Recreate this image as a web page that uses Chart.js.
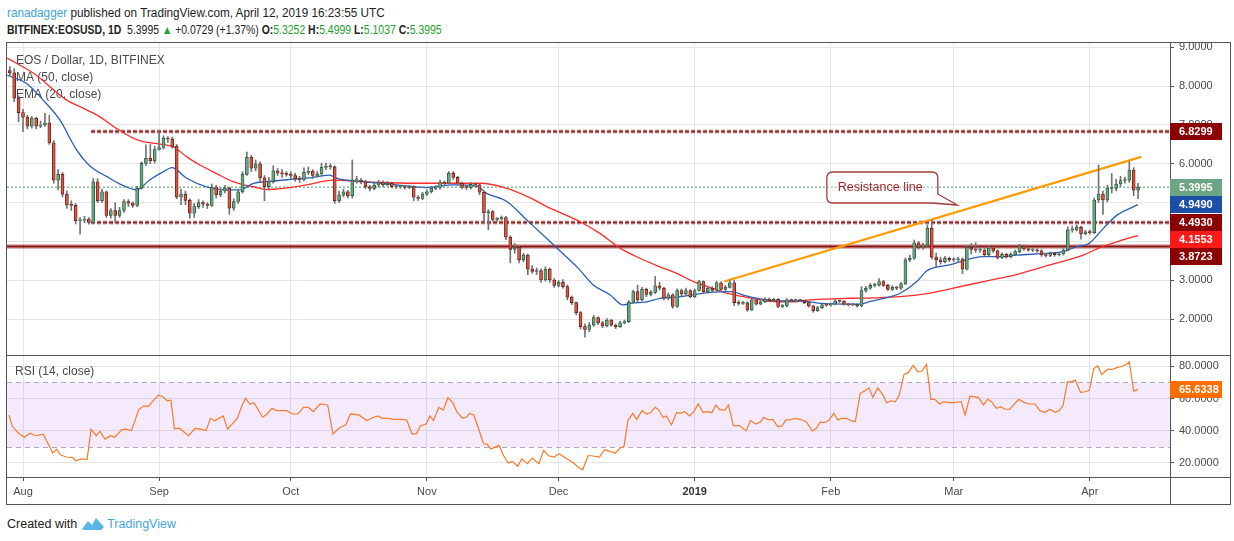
<!DOCTYPE html>
<html>
<head>
<meta charset="utf-8">
<title>EOS / Dollar, 1D, BITFINEX</title>
<script src="https://cdn.jsdelivr.net/npm/chart.js@4.4.1/dist/chart.umd.min.js"></script>
<style>
    html, body { margin: 0; padding: 0; background: #fff; }
    body { width: 1234px; height: 541px; position: relative; overflow: hidden; font-family: "Liberation Sans", Arial, sans-serif; }
    .hdr { position: absolute; left: 7px; font-size: 12px; line-height: 14px; color: #222; white-space: nowrap; transform-origin: 0 0; }
    #hdr1 { top: 6px; transform: scaleX(0.98); }
    #hdr2 { top: 23px; transform: scaleX(0.87); }
    .user { color: #3ea3dc; }
    .grn { color: #1e9e2a; }
    #frame { position: absolute; left: 6px; top: 42px; width: 1225px; height: 463px; border: 1px solid #555; box-sizing: border-box; }
    canvas { position: absolute; left: 7px; }
    #price { top: 43px; }
    #rsi { top: 355px; }
    #foot { position: absolute; left: 7px; top: 515px; font-size: 12.5px; line-height: 16px; color: #222; white-space: nowrap; }
    #foot svg { vertical-align: -3px; margin: 0 2px 0 4px; }
    #foot .tv { color: #45a6de; }
</style>
</head>
<body>
<div class="hdr" id="hdr1"><span class="user">ranadagger</span> published on TradingView.com, April 12, 2019 16:23:55 UTC</div>
<div class="hdr" id="hdr2"><b>BITFINEX:EOSUSD, 1D</b>&nbsp; 5.3995 <span class="grn">▲</span> +0.0729 (+1.37%) <b>O:</b><span class="grn">5.3252</span> <b>H:</b><span class="grn">5.4999</span> <b>L:</b><span class="grn">5.1037</span> <b>C:</b><span class="grn">5.3995</span></div>
<div id="frame"></div>
<canvas id="price" width="1223" height="312" style="width:1223px;height:312px"></canvas>
<canvas id="rsi" width="1223" height="149" style="width:1223px;height:149px"></canvas>
<div id="foot">Created with<svg width="24" height="16" viewBox="0 0 24 16"><path d="M1 14 L7 6 L11 10 L15 3 L23 12 L20 15 L3 15 Z" fill="#5ab4e5"/></svg><span class="tv">TradingView</span></div>

<script>
// day numbers count from 1 Aug 2018 (0); first candle is 29 Jul 2018
const FIRST_DAY = -3;
const FIRST_OPEN = 8.40;

const closes = [
    8.34, 7.69, 7.32, 7.20, 6.97, 7.18, 6.97, 7.00, 7.05, 6.54,
    5.58, 5.73, 5.22, 4.94, 4.93, 4.53, 4.55, 4.58, 4.49, 5.54,
    5.05, 5.28, 4.67, 4.80, 4.67, 4.80, 5.03, 4.99, 4.93, 5.37,
    6.01, 6.14, 6.08, 6.37, 6.42, 6.66, 6.64, 6.45, 5.15, 5.22,
    5.06, 4.73, 4.90, 5.00, 4.96, 4.93, 5.40, 5.20, 5.30, 5.38,
    4.86, 5.03, 5.28, 5.73, 6.17, 5.89, 6.00, 5.64, 5.41, 5.54,
    5.82, 5.76, 5.74, 5.73, 5.70, 5.62, 5.60, 5.78, 5.81, 5.70,
    5.74, 5.91, 5.93, 5.92, 5.05, 5.20, 5.28, 5.18, 5.58, 5.58,
    5.54, 5.41, 5.37, 5.45, 5.52, 5.46, 5.50, 5.41, 5.41, 5.41,
    5.39, 5.41, 5.14, 5.11, 5.22, 5.28, 5.37, 5.39, 5.52, 5.50,
    5.76, 5.65, 5.50, 5.40, 5.39, 5.47, 5.46, 5.27, 4.74, 4.77,
    4.57, 4.58, 4.62, 4.11, 3.80, 3.85, 3.53, 3.65, 3.29, 3.23,
    3.25, 3.01, 3.29, 3.01, 2.87, 2.95, 2.84, 2.57, 2.43, 2.17,
    1.81, 1.74, 1.85, 2.04, 1.91, 1.83, 1.98, 1.85, 1.81, 1.91,
    1.94, 2.44, 2.71, 2.50, 2.77, 2.64, 2.69, 2.86, 2.80, 2.54,
    2.63, 2.33, 2.74, 2.65, 2.74, 2.58, 2.74, 2.97, 2.71, 2.80,
    2.74, 2.94, 2.77, 2.82, 2.94, 2.43, 2.41, 2.42, 2.24, 2.50,
    2.39, 2.45, 2.52, 2.48, 2.51, 2.33, 2.34, 2.50, 2.48, 2.49,
    2.48, 2.43, 2.34, 2.22, 2.30, 2.37, 2.36, 2.39, 2.47, 2.46,
    2.39, 2.37, 2.38, 2.34, 2.74, 2.80, 2.87, 2.88, 2.97, 2.87,
    2.77, 2.82, 2.80, 2.91, 3.53, 3.57, 3.97, 3.85, 3.91, 4.34,
    3.60, 3.53, 3.48, 3.57, 3.53, 3.53, 3.55, 3.29, 3.85, 3.80,
    3.78, 3.78, 3.66, 3.83, 3.76, 3.59, 3.67, 3.61, 3.67, 3.74,
    3.89, 3.81, 3.78, 3.78, 3.76, 3.66, 3.64, 3.70, 3.66, 3.68,
    3.78, 4.30, 4.30, 4.37, 4.20, 4.25, 4.23, 5.07, 5.22, 5.07,
    5.37, 5.37, 5.48, 5.57, 5.58, 5.84, 5.3252, 5.3995
];

const highs = [
    8.50, 8.45, 7.75, 7.40, 7.25, 7.22, 7.20, 7.10, 7.30, 7.25,
    6.60, 5.85, 5.78, 5.30, 5.05, 4.98, 4.62, 4.65, 4.62, 5.62,
    5.62, 5.35, 5.30, 4.85, 5.00, 4.88, 5.08, 5.08, 5.02, 5.42,
    6.05, 6.49, 6.50, 6.45, 6.83, 6.72, 6.70, 6.69, 6.50, 5.35,
    5.30, 5.10, 4.98, 5.08, 5.05, 5.00, 5.48, 5.45, 5.38, 5.45,
    5.40, 5.10, 5.35, 5.80, 6.30, 6.22, 6.10, 6.05, 5.70, 5.65,
    5.95, 5.88, 5.85, 5.80, 5.80, 5.76, 5.68, 5.90, 5.92, 5.85,
    5.80, 6.02, 6.02, 6.00, 5.95, 5.30, 5.35, 5.32, 6.10, 5.68,
    5.62, 5.58, 5.45, 5.50, 5.58, 5.56, 5.55, 5.53, 5.46, 5.45,
    5.44, 5.45, 5.44, 5.18, 5.27, 5.33, 5.42, 5.44, 5.58, 5.56,
    5.80, 5.80, 5.68, 5.53, 5.44, 5.52, 5.50, 5.49, 5.30, 4.82,
    4.80, 4.62, 4.66, 4.65, 4.15, 3.95, 3.88, 3.70, 3.68, 3.38,
    3.32, 3.30, 3.35, 3.32, 3.05, 3.00, 3.02, 2.88, 2.60, 2.45,
    2.20, 1.88, 1.92, 2.10, 2.06, 1.95, 2.02, 2.00, 1.88, 1.95,
    1.98, 2.48, 2.75, 2.88, 2.82, 2.80, 2.74, 3.10, 2.95, 2.82,
    2.68, 2.66, 2.78, 2.78, 2.80, 2.76, 2.78, 3.00, 2.99, 2.85,
    2.84, 2.98, 2.96, 2.87, 3.00, 3.00, 2.48, 2.46, 2.45, 2.53,
    2.52, 2.48, 2.55, 2.55, 2.54, 2.53, 2.38, 2.53, 2.52, 2.52,
    2.51, 2.50, 2.45, 2.36, 2.33, 2.40, 2.39, 2.42, 2.50, 2.49,
    2.48, 2.41, 2.41, 2.40, 2.84, 2.85, 2.92, 2.93, 3.05, 3.00,
    2.90, 2.86, 2.85, 2.95, 3.58, 3.65, 4.04, 4.00, 3.96, 4.43,
    4.55, 3.70, 3.60, 3.62, 3.60, 3.58, 3.60, 3.58, 3.90, 3.95,
    3.97, 3.84, 3.82, 3.88, 3.86, 3.79, 3.71, 3.70, 3.71, 3.78,
    3.93, 3.91, 3.84, 3.82, 3.81, 3.79, 3.69, 3.73, 3.72, 3.71,
    3.82, 4.38, 4.40, 4.43, 4.40, 4.29, 4.30, 5.12, 5.97, 5.30,
    5.45, 5.75, 5.60, 5.68, 5.66, 6.06, 5.90, 5.4999
];

const lows = [
    8.25, 7.60, 7.08, 6.83, 6.90, 6.92, 6.90, 6.93, 6.96, 6.50,
    5.50, 5.33, 5.15, 4.85, 4.80, 4.45, 4.19, 4.48, 4.45, 4.47,
    5.00, 5.00, 4.62, 4.60, 4.49, 4.62, 4.75, 4.90, 4.88, 4.90,
    5.35, 5.95, 6.00, 6.02, 6.35, 6.38, 6.55, 6.40, 5.10, 4.95,
    4.95, 4.60, 4.62, 4.85, 4.88, 4.85, 4.90, 5.12, 5.15, 5.25,
    4.70, 4.80, 4.98, 5.25, 5.70, 5.80, 5.82, 5.55, 5.05, 5.35,
    5.50, 5.70, 5.65, 5.68, 5.62, 5.55, 5.52, 5.56, 5.72, 5.62,
    5.66, 5.70, 5.85, 5.86, 4.98, 5.00, 5.15, 5.12, 5.12, 5.50,
    5.48, 5.36, 5.30, 5.33, 5.40, 5.42, 5.43, 5.38, 5.37, 5.37,
    5.35, 5.36, 5.05, 5.06, 5.08, 5.18, 5.25, 5.33, 5.35, 5.45,
    5.48, 5.60, 5.45, 5.36, 5.34, 5.35, 5.40, 5.20, 4.47, 4.30,
    4.52, 4.52, 4.55, 4.05, 3.45, 3.70, 3.45, 3.48, 3.15, 3.18,
    3.15, 2.95, 2.98, 2.95, 2.82, 2.83, 2.80, 2.50, 2.38, 2.12,
    1.75, 1.54, 1.68, 1.82, 1.86, 1.78, 1.80, 1.82, 1.76, 1.79,
    1.88, 1.92, 2.40, 2.45, 2.47, 2.58, 2.60, 2.66, 2.75, 2.50,
    2.50, 2.28, 2.30, 2.60, 2.62, 2.55, 2.55, 2.72, 2.68, 2.68,
    2.70, 2.72, 2.74, 2.74, 2.80, 2.35, 2.36, 2.38, 2.20, 2.22,
    2.36, 2.37, 2.43, 2.45, 2.46, 2.30, 2.30, 2.32, 2.45, 2.46,
    2.45, 2.40, 2.31, 2.18, 2.20, 2.28, 2.33, 2.34, 2.37, 2.43,
    2.36, 2.34, 2.35, 2.31, 2.32, 2.70, 2.77, 2.83, 2.85, 2.84,
    2.74, 2.74, 2.76, 2.77, 2.89, 3.48, 3.54, 3.80, 3.80, 3.88,
    3.55, 3.35, 3.42, 3.45, 3.48, 3.48, 3.49, 3.17, 3.27, 3.68,
    3.72, 3.72, 3.62, 3.63, 3.72, 3.55, 3.56, 3.57, 3.58, 3.64,
    3.71, 3.77, 3.75, 3.74, 3.72, 3.62, 3.60, 3.61, 3.62, 3.63,
    3.65, 3.76, 4.24, 4.27, 4.06, 4.17, 4.19, 4.20, 5.00, 4.70,
    5.02, 5.25, 5.30, 5.42, 5.50, 5.52, 5.18, 5.1037
];

// MA (50) and EMA (20)
const smaDays = [
    -3.6, 2.4, 10, 14.5, 17.5, 21.3, 25.1, 27.4, 31.2, 34.2,
    37.3, 40.3, 44.1, 47.9, 50.2, 52.5, 55.5, 59.3, 64.6, 70.7,
    77.5, 81.3, 88.9, 96.5, 104.1, 110.2, 115.8, 119.3, 122.5, 126.9,
    131.4, 136, 140.5, 145.1, 148.9, 152.7, 156.5, 160.3, 164.1, 167.9,
    171.7, 175.5, 179.3, 183.1, 188.4, 194, 199.8, 205.9, 211.9, 218.8,
    226.3, 233.9, 241.5, 246.1, 250.5, 254
];
const smaVals = [
    8.72, 8.33, 7.64, 7.39, 7.21, 6.91, 6.66, 6.57, 6.51, 6.44,
    6.18, 5.97, 5.75, 5.54, 5.46, 5.41, 5.34, 5.37, 5.46, 5.58,
    5.54, 5.52, 5.50, 5.50, 5.50, 5.37, 5.11, 4.90, 4.74, 4.51,
    4.21, 3.83, 3.57, 3.35, 3.18, 2.97, 2.82, 2.67, 2.58, 2.50,
    2.45, 2.45, 2.50, 2.52, 2.54, 2.55, 2.58, 2.66, 2.80, 2.97,
    3.15, 3.40, 3.65, 3.88, 4.04, 4.1553
];
const emaDays = [
    -3.6, 0.8, 4.6, 8.4, 12.2, 15.3, 19.1, 22.1, 25.9, 28.9,
    32, 33.9, 37.3, 41.8, 46.4, 49.4, 52.5, 55.5, 60.1, 64.6,
    69.9, 71.4, 77.5, 85.1, 91.9, 98, 103.3, 105.6, 110.2, 114.7,
    119.3, 122.7, 126.5, 129.9, 133.7, 136.7, 138.3, 142.1, 145.1, 148.9,
    152.7, 156.5, 161.1, 164.8, 168.6, 172.4, 177, 181.6, 186.9, 190.5,
    193, 196.5, 199.8, 203.6, 205.9, 211.1, 218.8, 222.6, 226.3, 233.9,
    237, 240, 242.7, 246.1, 249.2, 254
];
const emaVals = [
    8.28, 8.07, 7.64, 7.13, 6.36, 5.94, 5.67, 5.48, 5.33, 5.59,
    5.80, 5.90, 5.63, 5.41, 5.33, 5.33, 5.50, 5.54, 5.59, 5.63,
    5.71, 5.63, 5.54, 5.46, 5.39, 5.46, 5.43, 5.24, 5.03, 4.56,
    4.08, 3.72, 3.31, 2.88, 2.63, 2.37, 2.41, 2.45, 2.54, 2.57,
    2.63, 2.69, 2.71, 2.60, 2.51, 2.47, 2.47, 2.41, 2.39, 2.39,
    2.46, 2.55, 2.67, 2.97, 3.25, 3.40, 3.61, 3.61, 3.65, 3.70,
    3.74, 3.87, 3.94, 4.34, 4.68, 4.949
];

// RSI (14)
const rsiDays = [
    -3.2, -2.4, -1.2, 0.3, 1.6, 2.9, 4.6, 6.8, 7.7, 8.5,
    9.9, 11.2, 12.0, 13.3, 14.6, 15.5, 16.7, 17.5, 18.7, 19.9,
    20.9, 22.5, 23.4, 24.7, 26.4, 27.5, 28.6, 30.8, 31.9, 32.8,
    33.7, 34.5, 35.6, 37.7, 39.2, 40.4, 41.7, 42.7, 43.7, 45.6,
    46.6, 48.8, 50.0, 50.7, 51.7, 52.6, 54.6, 55.6, 56.7, 57.8,
    60.0, 61.5, 62.6, 63.9, 65.0, 66.1, 67.7, 69.4, 70.6, 72.2,
    73.5, 74.6, 76.5, 78.3, 79.9, 80.9, 81.8, 83.1, 84.4, 86.1,
    87.4, 88.6, 89.6, 90.5, 91.8, 92.7, 93.5, 94.7, 95.7, 96.8,
    97.9, 98.8, 100.1, 101.0, 101.7, 102.7, 103.6, 104.9, 105.7, 106.6,
    108.4, 109.5, 110.5, 111.4, 112.7, 113.6, 114.9, 116.0, 117.5, 118.6,
    119.7, 121.0, 122.1, 123.6, 125.4, 126.7, 127.5, 128.7, 129.5, 131.3,
    132.5, 133.7, 134.9, 136.0, 136.9, 137.8, 138.9, 139.8, 141.0, 142.0,
    142.9, 144.0, 144.7, 145.8, 146.6, 147.7, 148.9, 149.8, 150.7, 151.8,
    152.8, 153.8, 154.9, 155.8, 156.9, 157.8, 158.8, 159.9, 160.7, 161.8,
    163.2, 164.7, 165.7, 166.9, 168.0, 168.7, 169.9, 170.8, 171.9, 172.9,
    173.8, 174.7, 175.8, 177.0, 178.4, 179.8, 180.7, 181.6, 182.5, 183.5,
    184.7, 185.6, 186.5, 187.6, 188.7, 189.6, 190.7, 191.8, 192.7, 193.6,
    194.7, 195.9, 196.7, 197.8, 198.7, 199.6, 200.7, 201.6, 202.8, 203.8,
    204.7, 205.8, 206.8, 207.7, 208.8, 209.8, 210.9, 212.1, 213.7, 214.6,
    215.7, 217.6, 218.8, 219.7, 220.6, 221.7, 222.7, 223.6, 224.7, 226.8,
    228.0, 229.1, 230.5, 231.7, 232.8, 233.9, 235.1, 236.0, 236.9, 237.9,
    238.8, 239.7, 240.9, 242.0, 242.9, 243.9, 244.8, 245.7, 247.1, 248.0,
    249.2, 250.3, 251.1, 252, 253, 254
];
const rsiVals = [
    49.8, 42.6, 38.9, 36.0, 38.5, 36.9, 37.9, 26.2, 28.6, 25.1,
    23.7, 23.5, 21.4, 22.5, 22.1, 41.0, 36.9, 39.7, 34.8, 36.9,
    36.0, 40.6, 41.0, 40.1, 53.3, 55.3, 55.3, 62.1, 61.1, 58.6,
    59.0, 41.2, 41.6, 36.9, 41.4, 41.0, 40.1, 47.7, 46.2, 49.2,
    41.0, 47.7, 56.4, 60.1, 56.4, 57.4, 48.4, 50.4, 53.9, 52.5,
    52.5, 50.4, 50.4, 54.5, 54.5, 51.9, 56.6, 56.0, 37.9, 42.2,
    43.6, 50.4, 49.8, 46.3, 48.4, 49.2, 47.7, 47.7, 47.1, 47.1,
    46.7, 38.1, 38.1, 43.0, 44.2, 49.2, 46.3, 54.5, 52.9, 60.5,
    57.4, 51.9, 47.7, 48.4, 50.8, 49.8, 42.6, 31.9, 31.7, 28.6,
    30.9, 24.5, 20.0, 21.0, 18.0, 22.5, 19.6, 23.1, 19.6, 27.8,
    24.5, 23.7, 25.8, 23.1, 20.0, 16.9, 15.9, 24.5, 24.5, 23.7,
    28.2, 27.2, 26.2, 29.2, 30.3, 46.3, 50.8, 47.1, 52.5, 50.4,
    51.2, 54.5, 53.3, 48.2, 49.2, 43.6, 51.4, 50.8, 51.9, 49.2,
    51.9, 56.6, 51.4, 51.9, 51.2, 56.0, 52.9, 52.9, 56.0, 43.2,
    43.2, 39.9, 46.3, 44.2, 45.6, 48.2, 46.8, 47.1, 42.6, 43.0,
    46.7, 46.7, 47.7, 47.1, 45.6, 39.9, 41.5, 45.3, 45.0, 46.3,
    50.8, 46.7, 47.7, 47.7, 46.1, 45.7, 63.2, 64.8, 66.6, 60.7,
    66.6, 62.1, 57.4, 58.6, 58.0, 62.1, 75.1, 75.9, 80.6, 76.5,
    76.9, 81.2, 59.5, 59.5, 56.6, 58.0, 57.4, 57.4, 58.0, 49.8,
    61.5, 60.7, 56.0, 59.5, 58.0, 53.9, 54.9, 53.5, 53.3, 59.5,
    57.6, 56.6, 56.6, 52.3, 51.4, 53.3, 51.4, 52.5, 55.5, 70.3,
    70.3, 71.4, 63.8, 64.2, 65.2, 78.6, 80.2, 74.9, 78.2, 78.0,
    79.2, 80.0, 80.8, 82.7, 64.6, 65.6338
];

const monthDays = [0, 31, 61, 92, 122, 153, 184, 212, 243];
const monthLabels = ['Aug', 'Sep', 'Oct', 'Nov', 'Dec', '2019', 'Feb', 'Mar', 'Apr'];
const priceTicks = [2, 3, 4, 5, 6, 7, 8, 9];
const rsiTicks = [20, 40, 60, 80];
const rsiBand = [30, 70];

// drawn levels: 6.8299 and 4.4930 dashed, 3.8723 solid
const levelValues = [6.8299, 4.4930, 3.8723];
const levelFrom = [15.5, 15.5, -3.65];
const trendDays = [159.7, 254.7];
const trendVals = [2.97, 6.18];

const X_MIN = -3.645, X_MAX = 261.27;
const FONT = '"Liberation Sans", Arial, sans-serif';
const GRID = '#e6e6e6';
const AXIS = '#555555';
const TEXT = '#4a4a4a';
const TAG_H = 17;

Chart.defaults.font.family = FONT;
Chart.defaults.font.size = 11;
Chart.defaults.color = TEXT;

const days = closes.map((c, i) => FIRST_DAY + i);
const opens = closes.map((c, i) => (i === 0 ? FIRST_OPEN : closes[i - 1]));
const isUp = closes.map((c, i) => c >= opens[i]);

function pts(xs, ys) {
    return xs.map((x, i) => ({ x: x, y: ys[i] }));
}

function isYearTick(ctx) {
    return !!(ctx && ctx.tick && monthLabels[monthDays.indexOf(ctx.tick.value)] === '2019');
}

function monthAxis(showLabels) {
    return {
        type: 'linear',
        min: X_MIN,
        max: X_MAX,
        offset: false,
        afterBuildTicks: s => { s.ticks = monthDays.map(v => ({ value: v })); },
        ticks: {
            display: showLabels,
            autoSkip: false,
            maxRotation: 0,
            padding: 4,
            callback: v => monthLabels[monthDays.indexOf(v)] || '',
            color: ctx => (isYearTick(ctx) ? '#333' : TEXT),
            font: ctx => ({ size: 11, weight: isYearTick(ctx) ? 'bold' : 'normal' })
        },
        grid: { color: GRID, offset: false, drawTicks: showLabels, tickLength: 4, tickColor: AXIS },
        border: { display: showLabels, color: AXIS },
        afterFit: s => { s.height = showLabels ? 27 : 0; s.paddingLeft = 0; s.paddingRight = 0; }
    };
}

function valueAxis(min, max, tickList) {
    return {
        type: 'linear',
        position: 'right',
        min: min,
        max: max,
        afterBuildTicks: s => { s.ticks = tickList.map(v => ({ value: v })); },
        ticks: { callback: v => Number(v).toFixed(4), color: TEXT, padding: 5 },
        grid: { color: GRID, tickLength: 4, tickColor: AXIS },
        border: { display: true, color: AXIS },
        afterFit: s => { s.width = 60; s.paddingTop = 0; s.paddingBottom = 0; }
    };
}

// ---------- price pane plugins ----------
const paneLegend = {
    id: 'paneLegend',
    beforeDatasetsDraw(chart) {
        const c = chart.ctx;
        c.save();
        c.font = '12px ' + FONT;
        c.fillStyle = TEXT;
        c.textBaseline = 'middle';
        c.fillText('EOS / Dollar, 1D, BITFINEX', 9, 17.5);
        c.fillText('MA (50, close)', 9, 34.5);
        c.fillText('EMA (20, close)', 9, 51.5);
        c.restore();
    }
};

const CALLOUT = { text: 'Resistance line', day: 183.1, price: 5.79, tipDay: 212.8, tipPrice: 4.94, w: 111, h: 31 };

const callout = {
    id: 'callout',
    afterDatasetsDraw(chart) {
        const { ctx, scales: { x, y } } = chart;
        const L = x.getPixelForValue(CALLOUT.day), T = y.getPixelForValue(CALLOUT.price);
        const R = L + CALLOUT.w, B = T + CALLOUT.h, r = 6;
        const tx = x.getPixelForValue(CALLOUT.tipDay), ty = y.getPixelForValue(CALLOUT.tipPrice);
        ctx.save();
        ctx.beginPath();
        ctx.moveTo(L + r, T);
        ctx.lineTo(R - r, T);
        ctx.quadraticCurveTo(R, T, R, T + r);
        ctx.lineTo(R, B - 9);
        ctx.lineTo(tx, ty);
        ctx.lineTo(R - 6, B);
        ctx.lineTo(L + r, B);
        ctx.quadraticCurveTo(L, B, L, B - r);
        ctx.lineTo(L, T + r);
        ctx.quadraticCurveTo(L, T, L + r, T);
        ctx.closePath();
        ctx.fillStyle = 'rgba(255,255,255,0.35)';
        ctx.fill();
        ctx.strokeStyle = '#a33a3a';
        ctx.lineWidth = 1.3;
        ctx.stroke();
        ctx.fillStyle = '#a4282c';
        ctx.font = '12.5px ' + FONT;
        ctx.textBaseline = 'middle';
        ctx.fillText(CALLOUT.text, L + 11, T + CALLOUT.h / 2 + 0.5);
        ctx.restore();
    }
};

function drawTag(ctx, left, yy, value, bg) {
    ctx.fillStyle = bg;
    ctx.fillRect(left, Math.round(yy - TAG_H / 2), 52, TAG_H);
    ctx.fillStyle = '#fff';
    ctx.fillText(value.toFixed(4), left + 9, yy + 0.5);
}

const priceTags = {
    id: 'priceTags',
    afterDraw(chart) {
        const { ctx, chartArea, scales: { y } } = chart;
        const tags = [
            { v: levelValues[0], bg: '#8b0000' },
            { v: closes[closes.length - 1], bg: '#6ba583' },
            { v: emaVals[emaVals.length - 1], bg: '#1b4fa8' },
            { v: levelValues[1], bg: '#8b0000' },
            { v: smaVals[smaVals.length - 1], bg: '#ff1a1a' },
            { v: levelValues[2], bg: '#8b0000' }
        ];
        // stack the tags downwards so they do not cover each other
        let prev = -Infinity;
        tags.forEach(t => {
            t.y = Math.max(y.getPixelForValue(t.v), prev + TAG_H);
            prev = t.y;
        });
        ctx.save();
        ctx.font = 'bold 11px ' + FONT;
        ctx.textBaseline = 'middle';
        tags.forEach(t => drawTag(ctx, chartArea.right, t.y, t.v, t.bg));
        ctx.restore();
    }
};

// ---------- price pane ----------
const level = (i, width, color, dash) => ({
    type: 'line',
    data: [{ x: levelFrom[i], y: levelValues[i] }, { x: X_MAX, y: levelValues[i] }],
    borderColor: color, borderWidth: width, borderDash: dash, pointRadius: 0
});

new Chart(document.getElementById('price'), {
    data: {
        datasets: [
            {
                type: 'bar',
                data: days.map((d, i) => ({ x: d, y: [opens[i], closes[i]] })),
                backgroundColor: isUp.map(u => (u ? '#6ba583' : '#d75442')),
                borderColor: isUp.map(u => (u ? '#225437' : '#5b1a13')),
                borderWidth: 0.8,
                borderSkipped: false,
                barThickness: 3,
                minBarLength: 1,
                grouped: false
            },
            {
                type: 'bar',
                data: days.map((d, i) => ({ x: d, y: [lows[i], highs[i]] })),
                backgroundColor: '#737375',
                barThickness: 1,
                grouped: false
            },
            { type: 'line', data: pts(emaDays, emaVals), borderColor: '#2a5db5', borderWidth: 1.3, pointRadius: 0, cubicInterpolationMode: 'monotone' },
            { type: 'line', data: pts(smaDays, smaVals), borderColor: '#ff2b2b', borderWidth: 1.3, pointRadius: 0, cubicInterpolationMode: 'monotone' },
            { type: 'line', data: pts(trendDays, trendVals), borderColor: '#ff9a00', borderWidth: 2.2, pointRadius: 0 },
            {
                type: 'line',
                data: [{ x: X_MIN, y: closes[closes.length - 1] }, { x: X_MAX, y: closes[closes.length - 1] }],
                borderColor: '#3f9a63', borderWidth: 1, borderDash: [2, 2], pointRadius: 0
            },
            level(0, 2, '#991b1b', [4, 2]),
            level(0, 4.5, 'rgba(153,27,27,0.28)', [4, 2]),
            level(1, 2, '#991b1b', [4, 2]),
            level(1, 4.5, 'rgba(153,27,27,0.28)', [4, 2]),
            level(2, 2, '#8b1010', []),
            level(2, 5, 'rgba(139,16,16,0.30)', [])
        ]
    },
    options: {
        responsive: false,
        animation: false,
        layout: { padding: 0, autoPadding: false },
        plugins: { legend: { display: false }, tooltip: { enabled: false } },
        scales: {
            x: monthAxis(false),
            y: valueAxis(1.08, 9.11, priceTicks)
        }
    },
    plugins: [paneLegend, callout, priceTags]
});

// ---------- RSI pane ----------
const rsiDecor = {
    id: 'rsiDecor',
    beforeDatasetsDraw(chart) {
        const { ctx, chartArea: a, scales: { y } } = chart;
        const yHi = y.getPixelForValue(rsiBand[1]);
        const yLo = y.getPixelForValue(rsiBand[0]);
        ctx.save();
        ctx.fillStyle = 'rgba(140,20,215,0.09)';
        ctx.fillRect(a.left, yHi, a.right - a.left, yLo - yHi);
        ctx.strokeStyle = '#b2a6bd';
        ctx.lineWidth = 1;
        ctx.setLineDash([5, 4]);
        [yHi, yLo].forEach(p => {
            ctx.beginPath();
            ctx.moveTo(a.left, Math.round(p) + 0.5);
            ctx.lineTo(a.right, Math.round(p) + 0.5);
            ctx.stroke();
        });
        ctx.setLineDash([]);
        ctx.font = '12px ' + FONT;
        ctx.fillStyle = TEXT;
        ctx.textBaseline = 'middle';
        ctx.fillText('RSI (14, close)', 8, 16.5);
        ctx.restore();
    },
    afterDraw(chart) {
        const { ctx, chartArea: a, scales: { y }, width, height } = chart;
        ctx.save();
        ctx.strokeStyle = AXIS;
        ctx.lineWidth = 1;
        ctx.beginPath();
        ctx.moveTo(0, 0.5); ctx.lineTo(width, 0.5);
        ctx.moveTo(0, Math.round(a.bottom) + 0.5); ctx.lineTo(width, Math.round(a.bottom) + 0.5);
        ctx.moveTo(Math.round(a.right) + 0.5, a.bottom); ctx.lineTo(Math.round(a.right) + 0.5, height);
        ctx.stroke();
        ctx.font = 'bold 11px ' + FONT;
        ctx.textBaseline = 'middle';
        const last = rsiVals[rsiVals.length - 1];
        drawTag(ctx, a.right, y.getPixelForValue(last), last, '#ff6d00');
        ctx.restore();
    }
};

new Chart(document.getElementById('rsi'), {
    data: {
        datasets: [{
            type: 'line',
            data: pts(rsiDays, rsiVals),
            borderColor: '#f77b2c',
            borderWidth: 1.2,
            pointRadius: 0,
            tension: 0
        }]
    },
    options: {
        responsive: false,
        animation: false,
        layout: { padding: 0, autoPadding: false },
        plugins: { legend: { display: false }, tooltip: { enabled: false } },
        scales: {
            x: monthAxis(true),
            y: valueAxis(11.3, 87, rsiTicks)
        }
    },
    plugins: [rsiDecor]
});
</script>
</body>
</html>
